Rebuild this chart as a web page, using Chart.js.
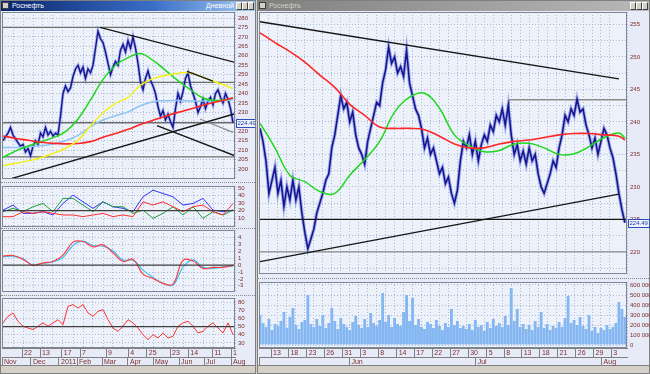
<!DOCTYPE html>
<html lang="ru">
<head>
<meta charset="utf-8">
<script src="https://cdn.jsdelivr.net/npm/chart.js@4.4.1/dist/chart.umd.min.js"></script>
<style>
  html, body { margin:0; padding:0; }
  body { width:650px; height:374px; position:relative; overflow:hidden; background:#d4d0c8; font-family:'Liberation Sans', Arial, sans-serif; }
  .win { position:absolute; top:0; height:374px; background:#e6ebf7; box-sizing:border-box; border:1px solid #7f7f7f; }
  .title { position:absolute; left:0; right:0; top:0; height:10px; font-size:7px; line-height:10px; white-space:nowrap; }
  .title .ico { position:absolute; left:1px; top:1px; width:7px; height:7px; background:#d4d0c8; border:1px solid #404040; box-sizing:border-box; }
  .title .name { position:absolute; left:11px; }
  .title .mode { position:absolute; right:21px; }
  .btns { position:absolute; right:1px; top:1px; font-size:0; }
  .btns i { display:inline-block; width:6px; height:8px; background:#d4d0c8; border:1px solid; border-color:#fff #404040 #404040 #fff; box-sizing:border-box; }
  .scroll { position:absolute; left:0; right:0; bottom:0; height:7px; background:#d4d0c8; border-top:1px solid #808080; }
  .sep { position:absolute; height:0; border-top:1px dotted #8a8a8a; }
  canvas { position:absolute; }
</style>
</head>
<body>
<div class="win" style="left:0;width:256px">
  <div class="title" style="background:linear-gradient(to right,#0a246a,#3a6fc8 60%,#a6caf0);color:#fff">
    <span class="ico"></span><span class="name">Роснефть</span><span class="mode">Дневной</span>
    <span class="btns"><i></i><i></i><i></i></span>
  </div>
  <div class="scroll"></div>
</div>
<div class="win" style="left:257px;width:393px">
  <div class="title" style="background:linear-gradient(to right,#808080,#b8b8b8);color:#d4d0c8">
    <span class="ico"></span><span class="name">Роснефть</span>
    <span class="btns"><i></i><i></i><i></i></span>
  </div>
  <div class="scroll"></div>
</div>
<div class="sep" style="left:1px;width:254px;top:182px"></div>
<div class="sep" style="left:1px;width:254px;top:228px"></div>
<div class="sep" style="left:1px;width:254px;top:295px"></div>
<div class="sep" style="left:258px;width:391px;top:278px"></div>

<canvas id="leftMain" width="253" height="167" style="left:2px;top:12px"></canvas>
<canvas id="leftAdx" width="253" height="41" style="left:2px;top:186px"></canvas>
<canvas id="leftMacd" width="253" height="62" style="left:2px;top:230px"></canvas>
<canvas id="leftRsi" width="253" height="68" style="left:2px;top:298px"></canvas>
<canvas id="rightMain" width="391" height="262" style="left:259px;top:12px"></canvas>
<canvas id="rightVol" width="391" height="84" style="left:259px;top:282px"></canvas>

<script>
// ---------- Левое окно: дневки, ноябрь 2010 – август 2011 (номер бара = торговый день) ----------
const leftClose = [215,217,219,222,218,216,214,212,213,209,
  211,207,212,215,213,219,217,222,218,220,
  217.5,219,218,228,240,244,241,243,249,253,
  255,251,254,248,253,251,255,264,273,269,
  267,262,256,250,254,257,255,263,266,262,
  268,264,270,264,256,246,242,248,252,247,
  244,240,233,228,231,226,229,225,222,232,
  240,236,241,248,251,244,240,236,230,233,
  237,232,236,238,234,240,242,238,235,240,
  237,232,224.49];
const leftMaBars = [0,5,10,15,20,25,30,35,40,45,50,55,60,65,70,75,80,85,90,92];
const leftMaGreen = [206.2,209.5,212.2,214.3,216.6,219.8,226.5,236.6,247.5,255,259,261.2,257.5,252.3,246.8,242,237.6,236.3,236.8,237.7];
const leftMaYellow = [201.7,203,204.3,206,208.2,211,215.3,222.8,229.8,234.8,238,244.5,247.9,249.6,250.8,251,248.6,246.1,243.7,242.6];
const leftMaBlue = [211.4,211.4,211.7,212.3,213.3,215,217.8,222.5,226,228.2,230.3,233.5,235.6,236.2,236.3,236.1,236,236.1,236.4,236.7];
const leftMaRed = [217.5,216.2,215.2,214.2,213.6,213.3,213.5,214.5,216.8,218.8,221,223.6,225.8,228,230,231.8,233.8,235.5,237,237.8];
// линии: [бар1, цена1, бар2, цена2]
const leftTrendBlack = [[38.8,275,92.8,256.5],[3.6,195,92.8,229.3],[61.6,223,92.8,207],[73.6,251.7,84,246.6]];
const leftTrendGray = [[78.8,226.5,92,219.4]];
const leftLevels = [275,245.9,224.5,206.4];

// индикаторы (каждые 4 бара)
const adxBlue = [20.7,27.4,16.3,16.3,18.5,14.1,29.6,40.7,31.8,23,31.8,25.2,23,18.5,38.5,47.4,42.9,38.5,27.4,29.6,36.3,20.7,18.5,20.7];
const adxGreen = [18.5,23,18.5,25.2,29.6,18.5,36.3,36.3,27.4,18.5,31.8,25.2,25.2,16.3,20.7,9.6,16.3,25.2,14.1,25.2,9.6,18.5,14.1,20.7];
const adxRed = [11.9,11.9,18.5,16.3,18.5,16.3,14.1,14.1,11.9,14.1,16.3,11.9,14.1,11.9,31.8,27.4,31.8,25.2,18.5,25.2,27.4,18.5,14.1,29.6];
const macdMain = [1.31,1.4,0.83,0,0.34,0.53,1.45,3.34,3.43,2.66,2.95,1.79,0.53,0.83,-1.3,-1.93,-2.65,-2.75,0.7,0.6,-0.48,-0.33,-0.33,0];
const macdSignal = [1.21,1.31,0.92,0,0.24,0.49,1.11,2.85,3.48,2.85,2.76,2.08,0.73,0.73,-0.72,-1.78,-2.65,-2.9,-0.3,0.75,-0.33,-0.48,-0.24,-0.14];
// RSI (каждые 2 бара)
const rsi = [54.6,62.8,66.9,56.6,50.5,48.4,46.4,50.5,54.6,50.5,54.6,58.7,52.5,75.1,77.1,73,77.1,66.9,62.8,68.9,
  71,58.7,48.4,44.3,50.5,58.7,54.6,48.4,40.2,34.1,40.2,36.1,42.3,36.1,38.2,50.5,54.6,56.6,50.5,42.3,
  44.3,50.5,54.6,48.4,42.3,54.6,40.2];

const leftDayBars = [7.6,14.8,23.5,30.8,41.2,50.1,57.5,66.8,74.1,83.7,91.2];
const leftDayLabels = ['22','13','17','7','9','4','25','23','14','11','1'];
const leftMonthBars = [-0.4,11.2,22.4,29.6,39.6,50,60,70.4,80.4,91.2];
const leftMonthLabels = ['Nov','Dec','2011','Feb','Mar','Apr','May','Jun','Jul','Aug'];

// ---------- Правое окно: часовики, май – август 2011 ----------
const rightClose = [239,237,234,229,231,233,229,231,227,230,
  228,231,228,230,226,223,220.5,222,223.5,226,
  227.5,229,231,232,236,238,241,244,242,243,
  240,241.5,238,236,235,233.5,237,239,241,243,
  242.5,246,248,251.5,249,250,247.5,248.5,247,251,
  246,244,242,241,239,236,237.5,235,236,234,
  232,233,230.5,231.5,229,227.5,229.5,234,237,236,
  238,235,237,234,236.5,238,237,239.5,238.5,241,
  240,242,239.5,242.5,238,235,236.5,234,235.5,233.5,
  236,234,235,232,230,229,230.5,232,234,233,
  236,238,241,240,242,241,243.5,241.5,242,239.5,
  238,236,237.5,235,237,239,238,236,234.5,232,
  229,226.5,224.49];
const rightMaBars = [0,5,10,15,20,25,30,35,40,45,50,55,60,65,70,75,80,85,90,95,100,105,110,115,120,122];
const rightMaRed = [253.7,252.2,250.8,249.2,247.2,245.3,242.7,241,239.2,239,239,238.8,237.8,236.6,236,236,236.6,237,237.2,237.6,238,238.2,238.2,238,237.8,237.2];
const rightMaGreen = [239.8,236,231.8,230.8,229.3,229,231.8,234.2,237,241.5,243.8,244.4,242.1,238,236.3,235.4,235.6,236.6,236.7,236,235,235.1,236.2,237.6,238.3,237.5];
const rightTrendBlack = [[0,255.4,120,246.6],[0,218.5,120,228.9],[-0.4,225,122.7,225]];
const rightTrendGray = [[-0.4,220,122.7,220],[83.3,243.4,122.7,243.4],[83.3,243.4,83.3,240.8]];
// объём, тыс. шт.
const rightVolume = [300,220,180,260,150,210,190,240,330,170,
  280,370,200,160,230,250,500,210,180,260,
  190,300,170,220,370,240,160,270,210,180,
  150,230,290,200,170,260,180,320,220,190,
  250,520,230,300,180,270,210,190,330,500,
  240,470,200,260,180,160,230,210,170,250,
  190,150,220,180,360,200,240,170,190,160,
  210,150,250,180,200,140,230,170,260,190,
  220,180,290,200,570,240,360,180,210,160,
  200,150,240,180,330,170,210,150,190,170,
  230,180,270,490,220,250,200,280,190,160,
  300,140,180,120,170,150,200,160,180,220,
  430,360,280];
const rightDayBars = [3.7,9.5,15.6,21.5,27.5,33.5,39.5,45.7,51.6,57.6,63.6,69.6,75.8,81.7,87.5,93.6,99.5,105.6,111.5,117.4];
const rightDayLabels = ['13','18','23','26','31','3','8','14','17','22','27','30','5','8','13','18','21','26','29','3'];
const rightMonthBars = [-0.33,29.9,72.1,114.2];
const rightMonthLabels = ['','Jun','Jul','Aug'];
const lastPrice = 224.49;

// ---------- оформление ----------
const FONT = {family:'Liberation Sans', size:7};
const YFONT = {family:'Liberation Sans', size:6};
const TICK = '#7c2b2b';
const GRID = '#adb9d8';
Chart.defaults.font.family = 'Liberation Sans';
Chart.defaults.font.size = 7;
Chart.defaults.animation = false;

const framePlugin = {
  id:'frame',
  beforeDraw(c) {
    const a = c.chartArea, x = c.ctx;
    x.save(); x.fillStyle = '#edf1fa'; x.fillRect(a.left, a.top, a.width, a.height); x.restore();
  },
  afterDraw(c) {
    const a = c.chartArea, x = c.ctx;
    x.save(); x.strokeStyle = '#7d8699'; x.lineWidth = 1;
    x.strokeRect(a.left + 0.5, a.top + 0.5, a.width - 1, a.height - 1); x.restore();
  }
};
const lastBox = {
  id:'lastBox',
  afterDraw(c, args, o) {
    if (o.value == null) return;
    const a = c.chartArea, x = c.ctx, y = Math.round(c.scales.y.getPixelForValue(o.value));
    x.save();
    x.font = '6px "Liberation Sans"';
    const w = Math.ceil(x.measureText(o.text).width) + 3;
    x.fillStyle = '#eef4ff'; x.fillRect(a.right + 1, y - 4, w, 9);
    x.strokeStyle = '#2e4fb8'; x.lineWidth = 1; x.strokeRect(a.right + 1.5, y - 3.5, w - 1, 8);
    x.fillStyle = '#1e3a9a'; x.textBaseline = 'middle'; x.fillText(o.text, a.right + 2.5, y + 0.5);
    x.restore();
  }
};
Chart.register(framePlugin, lastBox);

const near = (v, m) => Math.abs(v / m - Math.round(v / m)) < 1e-6;
function yAxis(min, max, step, width, fmt) {
  return { position:'right', min, max,
    afterBuildTicks(s) {
      const t = [];
      for (let k = Math.ceil(min / step - 1e-9); k * step <= max + 1e-9; k++) t.push({value:+(k * step).toFixed(4)});
      s.ticks = t;
    },
    ticks:{autoSkip:false, color:TICK, font:YFONT, padding:3, callback:fmt},
    grid:{color:GRID, drawTicks:false},
    border:{display:false, dash:[1,2]},
    afterFit(s) { s.width = width; s.paddingTop = 0; s.paddingBottom = 0; } };
}
function xGrid(min, max, step) {
  return { type:'linear', min, max, offset:false, position:'bottom',
    ticks:{display:false, stepSize:step},
    grid:{color:GRID, drawTicks:false, offset:false},
    border:{display:false, dash:[1,2]},
    afterFit(s) { s.height = 0; s.paddingLeft = 0; s.paddingRight = 0; } };
}
function dateAxis(min, max, bars, labels, weight) {
  return { type:'linear', min, max, offset:false, position:'bottom', weight,
    afterBuildTicks(s) { s.ticks = bars.map(v => ({value:v})); },
    ticks:{autoSkip:false, maxRotation:0, minRotation:0, align:'start', labelOffset:2, padding:-8,
      color:TICK, font:FONT, callback:(v, i) => labels[i]},
    grid:{drawOnChartArea:false, drawTicks:true, tickLength:9, tickColor:'#808080', color:'#808080', offset:false},
    border:{display:true, color:'#808080'},
    afterFit(s) { s.height = 9; s.paddingLeft = 0; s.paddingRight = 0; } };
}

const series = (vals, step) => vals.map((v, i) => ({x:i * step, y:v}));
const atBars = (bars, vals) => bars.map((b, i) => ({x:b, y:vals[i]}));
const seg = s => [{x:s[0], y:s[1]}, {x:s[2], y:s[3]}];
const line = (data, color, width, smooth) => ({type:'line', data, borderColor:color, borderWidth:width,
  pointRadius:0, fill:false, tension:smooth ? 0.4 : 0});

function makeChart(id, datasets, scales, box) {
  return new Chart(document.getElementById(id), {
    type:'line',
    data:{datasets},
    options:{responsive:false, layout:{padding:0},
      plugins:{legend:{display:false}, tooltip:{enabled:false}, lastBox:box || {}},
      scales}
  });
}

// ---------- левое окно ----------
const LX = [-0.4, 92.8];
const LW = 20;
makeChart('leftMain', [
  ...leftTrendBlack.map(s => line(seg(s), '#161616', 1.3)),
  line(atBars(leftMaBars, leftMaYellow), '#f4f01a', 1.5, true),
  line(atBars(leftMaBars, leftMaRed), '#ff2626', 1.6, true),
  line(atBars(leftMaBars, leftMaGreen), '#1ed81e', 1.5, true),
  line(atBars(leftMaBars, leftMaBlue), '#8cc4f4', 1.5, true),
  line(series(leftClose, 1), '#15158e', 1.4),
  line(series(leftClose, 1), 'rgba(95,110,225,0.5)', 3),
  ...leftTrendGray.map(s => line(seg(s), '#8a8a8a', 1.2)),
  ...leftLevels.map(v => line([{x:LX[0], y:v}, {x:LX[1], y:v}], '#6e6e6e', 1.3))
], {
  x: xGrid(LX[0], LX[1], 4),
  y: yAxis(194.7, 283.2, 5, LW, v => v >= 199.9 ? String(Math.round(v)) : '')
}, {value:lastPrice, text:lastPrice.toFixed(2)});

makeChart('leftAdx', [
  line([{x:LX[0], y:20}, {x:LX[1], y:20}], '#404040', 1.2),
  line(series(adxRed, 4), '#ff3030', 1),
  line(series(adxGreen, 4), '#1f9e3c', 1),
  line(series(adxBlue, 4), '#3434ff', 1)
], {
  x: xGrid(LX[0], LX[1], 4),
  y: yAxis(-2, 53, 10, LW, v => v >= 9.9 ? String(Math.round(v)) : '')
});

makeChart('leftMacd', [
  line([{x:LX[0], y:0}, {x:LX[1], y:0}], '#404040', 1.2),
  line(series(macdMain, 4), '#ff4040', 1.2, true),
  line(series(macdSignal, 4), '#3cc0ff', 1.2, true)
], {
  x: xGrid(LX[0], LX[1], 4),
  y: yAxis(-3.9, 5.1, 1, LW, v => v < 4.5 ? String(Math.round(v)) : '')
});

makeChart('leftRsi', [
  line([{x:LX[0], y:50}, {x:LX[1], y:50}], '#404040', 1.2),
  line(series(rsi, 2), '#ff3030', 1)
], {
  x: xGrid(LX[0], LX[1], 4),
  days: dateAxis(LX[0], LX[1], leftDayBars, leftDayLabels, 1),
  months: dateAxis(LX[0], LX[1], leftMonthBars, leftMonthLabels, 2),
  y: yAxis(23.8, 85.3, 10, LW, v => String(Math.round(v)))
});

// ---------- правое окно ----------
const RX = [-0.33, 122.7];
makeChart('rightMain', [
  ...rightTrendBlack.map(s => line(seg(s), '#161616', 1.3)),
  line(atBars(rightMaBars, rightMaRed), '#ff2626', 1.6, true),
  line(atBars(rightMaBars, rightMaGreen), '#1ed81e', 1.5, true),
  line(series(rightClose, 1), '#15158e', 1.6),
  line(series(rightClose, 1), 'rgba(95,110,225,0.5)', 3.5),
  ...rightTrendGray.map(s => line(seg(s), '#8a8a8a', 1.3))
], {
  x: xGrid(RX[0], RX[1], 3),
  y: yAxis(216.6, 256.9, 2.5, 23, v => near(v, 5) ? String(Math.round(v)) : '')
}, {value:lastPrice, text:lastPrice.toFixed(2)});

new Chart(document.getElementById('rightVol'), {
  type:'bar',
  data:{datasets:[{label:'Объём', data:series(rightVolume, 1), backgroundColor:'#84b6f2',
    borderWidth:0, barPercentage:0.95, categoryPercentage:1}]},
  options:{responsive:false, layout:{padding:0},
    plugins:{legend:{display:false}, tooltip:{enabled:false}},
    scales:{
      x: xGrid(RX[0], RX[1], 3),
      days: dateAxis(RX[0], RX[1], rightDayBars, rightDayLabels, 1),
      months: dateAxis(RX[0], RX[1], rightMonthBars, rightMonthLabels, 2),
      y: yAxis(-30, 630, 100, 23, v => Math.abs(v) < 0.5 ? '0' : Math.round(v) + ' 000')
    }}
});
</script>
</body>
</html>
